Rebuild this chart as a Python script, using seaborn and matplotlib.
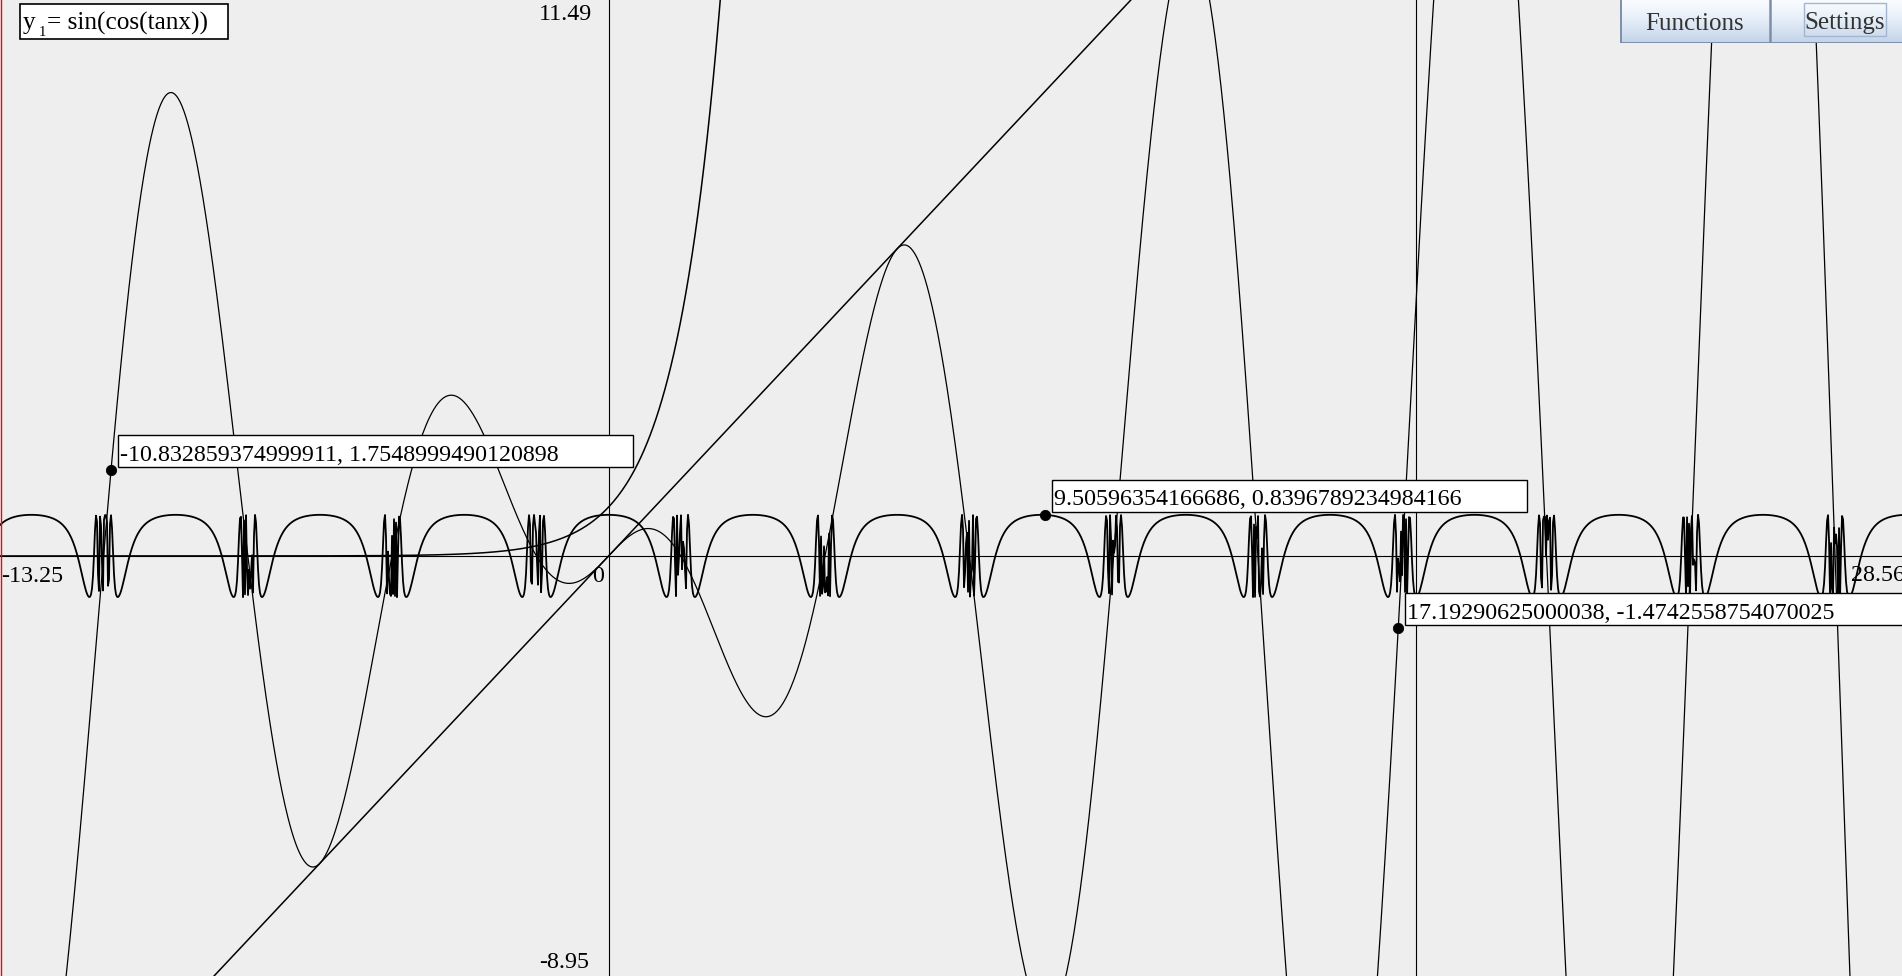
import numpy as np
import pandas as pd
import seaborn as sns
import matplotlib.pyplot as plt
from matplotlib.patches import Rectangle
from matplotlib.lines import Line2D
from matplotlib.transforms import IdentityTransform

plt.rcParams['font.family'] = ['Liberation Serif', 'DejaVu Serif']

# window of the plotter
W, H = 1902, 976
x_left, x_right = -13.25, 28.16
y_bottom, y_top = -8.59, 11.37
step = 1 / 45.93          # one sample per screen pixel

# plotted functions
func_names = ["sin(cos(tanx))", "x*cos(x)", "x", "e^x"]
func_defs = [lambda x: np.sin(np.cos(np.tan(x))),
             lambda x: x * np.cos(x),
             lambda x: x,
             lambda x: np.exp(x)]
func_widths = [1.3, 0.9, 1.1, 1.1]
trace_x = 17.57           # vertical trace line

# traced points
point_x = [-10.832859374999911, 9.50596354166686, 17.19290625000038]
point_y = [1.7548999490120898, 0.8396789234984166, -1.4742558754070025]
point_labels = ["-10.832859374999911, 1.7548999490120898",
                "9.50596354166686, 0.8396789234984166",
                "17.19290625000038, -1.4742558754070025"]

# window labels
lbl_top, lbl_bottom, lbl_left, lbl_right = "11.49", "-8.95", "-13.25", "28.56"
title_var, title_sub, title_rest = "y", "1", "= sin(cos(tanx))"
buttons = ["Functions", "Settings"]

fig = plt.figure(figsize=(W / 100, H / 100), dpi=100)
fig.patch.set_facecolor("#eeeeee")
ax = fig.add_axes([0, 0, 1, 1])

ax.axhline(0, color="black", lw=0.8)
ax.axvline(0, color="black", lw=0.8)
ax.axvline(trace_x, color="black", lw=0.8)

xs = np.arange(x_left, x_right + step, step)
for name, f, lw in zip(func_names, func_defs, func_widths):
    df = pd.DataFrame({"x": xs, "y": f(xs)})
    sns.lineplot(data=df, x="x", y="y", ax=ax, color="black", lw=lw,
                 sort=False, estimator=None)

pts = pd.DataFrame({"x": point_x, "y": point_y})
sns.scatterplot(data=pts, x="x", y="y", ax=ax, color="black", s=55,
                edgecolor="black", zorder=5)
ax.set_xlim(x_left, x_right)
ax.set_ylim(y_bottom, y_top)
ax.axis("off")

ident = IdentityTransform()
fs = 17.3


def top(y):
    return H - y


# value labels
fig.canvas.draw()
for x, y, txt in zip(point_x, point_y, point_labels):
    mx, my = ax.transData.transform((x, y))
    left, bottom = mx + 7, my + 3
    box = Rectangle((left, bottom), 13.2 * len(txt), 32, transform=ident,
                    facecolor="white", edgecolor="black", lw=1, zorder=6)
    fig.add_artist(box)
    fig.text(left + 2, bottom + 6.5, txt, transform=ident, fontsize=fs,
             ha="left", va="baseline", zorder=7)

# window bound labels
fig.text(592, top(20), lbl_top, transform=ident, fontsize=fs, ha="right", va="baseline")
fig.text(589, top(968), lbl_bottom, transform=ident, fontsize=fs, ha="right", va="baseline")
fig.text(604, top(582), "0", transform=ident, fontsize=fs, ha="right", va="baseline")
fig.text(1, top(582), lbl_left, transform=ident, fontsize=fs, ha="left", va="baseline")
fig.text(1851, top(581), lbl_right, transform=ident, fontsize=fs, ha="left", va="baseline")

# function title box
fig.add_artist(Rectangle((20, top(39)), 208, 35, transform=ident, facecolor="white",
                         edgecolor="black", lw=1.2, zorder=6))
fig.text(23, top(29.5), title_var, transform=ident, fontsize=18.2, ha="left",
         va="baseline", zorder=7)
fig.text(38.5, top(36.5), title_sub, transform=ident, fontsize=10.5, ha="left",
         va="baseline", zorder=7)
fig.text(47, top(29.5), title_rest, transform=ident, fontsize=18.2, ha="left",
         va="baseline", zorder=7)

# buttons
bax = fig.add_axes([1620 / W, 1 - 43 / H, 300 / W, 43 / H], zorder=8)
grad = np.linspace(0, 1, 64)[:, None, None]
c_top = np.array([0.975, 0.985, 1.0])
c_bot = np.array([0.76, 0.83, 0.915])
bax.imshow(c_top + (c_bot - c_top) * grad ** 1.3, extent=[0, 300, 43, 0], aspect="auto")
bax.set_xlim(0, 300)
bax.set_ylim(43, 0)
bax.axis("off")
bax.add_patch(Rectangle((0.5, -2), 299, 44.5, facecolor="none", edgecolor="#7d8fa8", lw=1.4))
bax.plot([150, 150], [0, 43], color="#7d8fa8", lw=1.8)
bax.add_patch(Rectangle((184, 3), 82, 33, facecolor="none", edgecolor="#a3b6cf", lw=1.0))
bax.text(75, 29.5, buttons[0], fontsize=18, color="#333333", ha="center", va="baseline")
bax.text(225, 29.5, buttons[1], fontsize=18, color="#333333", ha="center", va="baseline")

# red window edge
fig.add_artist(Line2D([0.6 / W, 0.6 / W], [0, 1], color="red", lw=1.0))

fig.savefig("out.png", dpi=100, facecolor=fig.get_facecolor())
